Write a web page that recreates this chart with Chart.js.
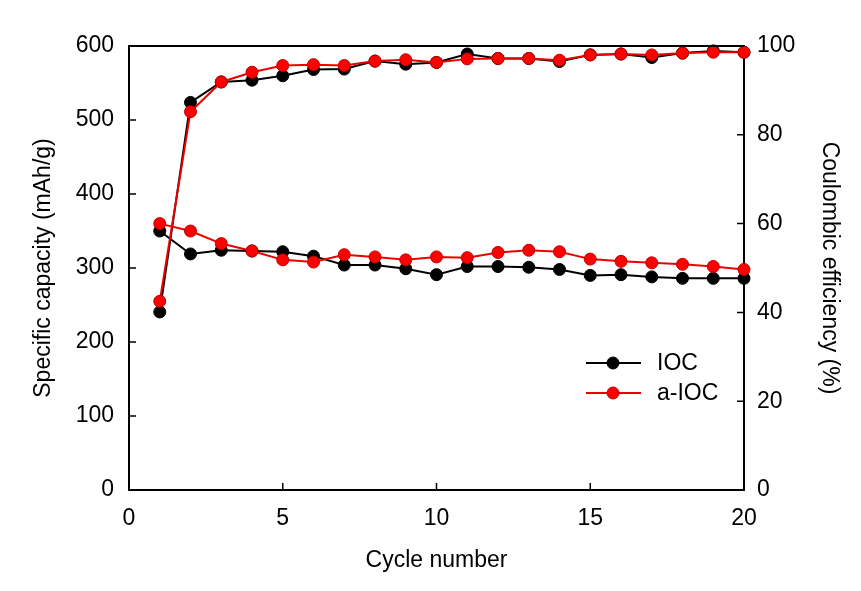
<!DOCTYPE html>
<html>
<head>
<meta charset="utf-8">
<script src="https://cdn.jsdelivr.net/npm/chart.js@4/dist/chart.umd.min.js"></script>
<style>
  html, body { margin: 0; padding: 0; background: #fff; }
  #wrap { width: 861px; height: 591px; }
</style>
</head>
<body>
<div id="wrap"><canvas id="c" width="861" height="591"></canvas></div>
<script>
const cycles = [1,2,3,4,5,6,7,8,9,10,11,12,13,14,15,16,17,18,19,20];
const iocCapacity  = [350,319,324,323,322,316,304,304,299,291,302,302,301,298,290,291,288,286,286,286];
const aiocCapacity = [360,350,333,323,311,308,318,315,311,315,314,321,324,322,312,309,307,305,302,298];
const iocCE  = [40.1,87.3,91.9,92.3,93.3,94.7,94.8,96.6,95.9,96.3,98.2,97.2,97.2,96.5,98.0,98.2,97.4,98.4,98.9,98.6];
const aiocCE = [42.5,85.2,91.9,94.1,95.6,95.8,95.6,96.6,96.9,96.3,97.1,97.2,97.2,96.8,98.0,98.2,98.0,98.4,98.6,98.6];
const seriesNames = ['IOC', 'a-IOC'];
const xTicks = [0,5,10,15,20];
const yTicks = [0,100,200,300,400,500,600];
const y1Ticks = [0,20,40,60,80,100];

const BLACK = '#000000';
const RED = '#ee0000';
const FONT = "'Liberation Sans', Arial, sans-serif";
const FS = 23;

function pts(ys) { return cycles.map((x, i) => ({x: x, y: ys[i]})); }

function ds(label, data, axis, color, fill, border, order) {
  return {
    label: label, data: pts(data), yAxisID: axis,
    borderColor: color, backgroundColor: fill,
    pointBackgroundColor: fill, pointBorderColor: border,
    pointRadius: 6, pointBorderWidth: 1, borderWidth: 2,
    tension: 0, clip: false, order: order
  };
}

const datasets = [
  ds(seriesNames[0], iocCapacity, 'y', BLACK, '#000000', '#000000', 1),
  ds(seriesNames[1], aiocCapacity, 'y', RED, '#ff0000', '#c00000', 0),
  ds(seriesNames[0] + ' CE', iocCE, 'y1', BLACK, '#000000', '#000000', 1),
  ds(seriesNames[1] + ' CE', aiocCE, 'y1', RED, '#ff0000', '#c00000', 0)
];

const frame = {
  id: 'frame',
  afterDraw(chart) {
    const ctx = chart.ctx;
    const a = chart.chartArea;
    const sx = chart.scales.x, sy = chart.scales.y, sy1 = chart.scales.y1;
    ctx.save();
    ctx.strokeStyle = '#000';
    ctx.lineWidth = 2;
    ctx.beginPath();
    ctx.moveTo(a.left, a.top); ctx.lineTo(a.right, a.top);
    ctx.stroke();
    ctx.lineWidth = 1.5;
    ctx.beginPath();
    xTicks.forEach(v => { const px = sx.getPixelForValue(v); ctx.moveTo(px, a.bottom); ctx.lineTo(px, a.bottom - 7); });
    yTicks.forEach(v => { const py = sy.getPixelForValue(v); ctx.moveTo(a.left, py); ctx.lineTo(a.left + 7, py); });
    y1Ticks.forEach(v => { const py = sy1.getPixelForValue(v); ctx.moveTo(a.right, py); ctx.lineTo(a.right - 7, py); });
    ctx.stroke();
    // legend
    const items = [
      {label: seriesNames[0], d: datasets[0], y: 363},
      {label: seriesNames[1], d: datasets[1], y: 393}
    ];
    items.forEach(it => {
      ctx.strokeStyle = it.d.borderColor;
      ctx.lineWidth = 2;
      ctx.beginPath(); ctx.moveTo(586, it.y); ctx.lineTo(641, it.y); ctx.stroke();
      ctx.beginPath(); ctx.arc(613, it.y, 6, 0, Math.PI * 2);
      ctx.fillStyle = it.d.pointBackgroundColor; ctx.fill();
      ctx.lineWidth = 1; ctx.strokeStyle = it.d.pointBorderColor; ctx.stroke();
      ctx.fillStyle = '#000';
      ctx.font = FS + 'px ' + FONT;
      ctx.textBaseline = 'middle';
      ctx.textAlign = 'left';
      ctx.fillText(it.label, 657, it.y + 1);
    });
    ctx.restore();
  }
};

const tickFont = {family: FONT, size: FS};
const titleFont = {family: FONT, size: FS};

new Chart(document.getElementById('c'), {
  type: 'line',
  data: { datasets: datasets },
  options: {
    responsive: false,
    animation: false,
    devicePixelRatio: 1,
    layout: { padding: { top: 46, left: 0, right: 0, bottom: 0 } },
    plugins: { legend: { display: false }, tooltip: { enabled: false } },
    scales: {
      x: {
        type: 'linear', min: 0, max: 20,
        afterBuildTicks(s) { s.ticks = xTicks.map(v => ({value: v})); },
        afterFit(s) { s.height = 101; },
        grid: { display: false, drawTicks: false },
        border: { display: true, color: '#000', width: 2 },
        ticks: { color: '#000', font: tickFont, padding: 15, maxRotation: 0 },
        title: { display: true, text: 'Cycle number', color: '#000', font: titleFont, padding: { top: 0, bottom: 17 } }
      },
      y: {
        type: 'linear', position: 'left', min: 0, max: 600,
        afterBuildTicks(s) { s.ticks = yTicks.map(v => ({value: v})); },
        afterFit(s) { s.width = 129; },
        grid: { display: false, drawTicks: false },
        border: { display: true, color: '#000', width: 2 },
        ticks: { color: '#000', font: tickFont, padding: 15 },
        title: { display: true, text: 'Specific capacity (mAh/g)', color: '#000', font: titleFont, padding: { top: 30, bottom: 0 } }
      },
      y1: {
        type: 'linear', position: 'right', min: 0, max: 100,
        afterBuildTicks(s) { s.ticks = y1Ticks.map(v => ({value: v})); },
        afterFit(s) { s.width = 117; },
        grid: { display: false, drawTicks: false },
        border: { display: true, color: '#000', width: 2 },
        ticks: { color: '#000', font: tickFont, padding: 13 },
        title: { display: true, text: 'Coulombic efficiency (%)', color: '#000', font: titleFont, padding: { top: 18, bottom: 0 } }
      }
    }
  },
  plugins: [frame]
});
</script>
</body>
</html>
